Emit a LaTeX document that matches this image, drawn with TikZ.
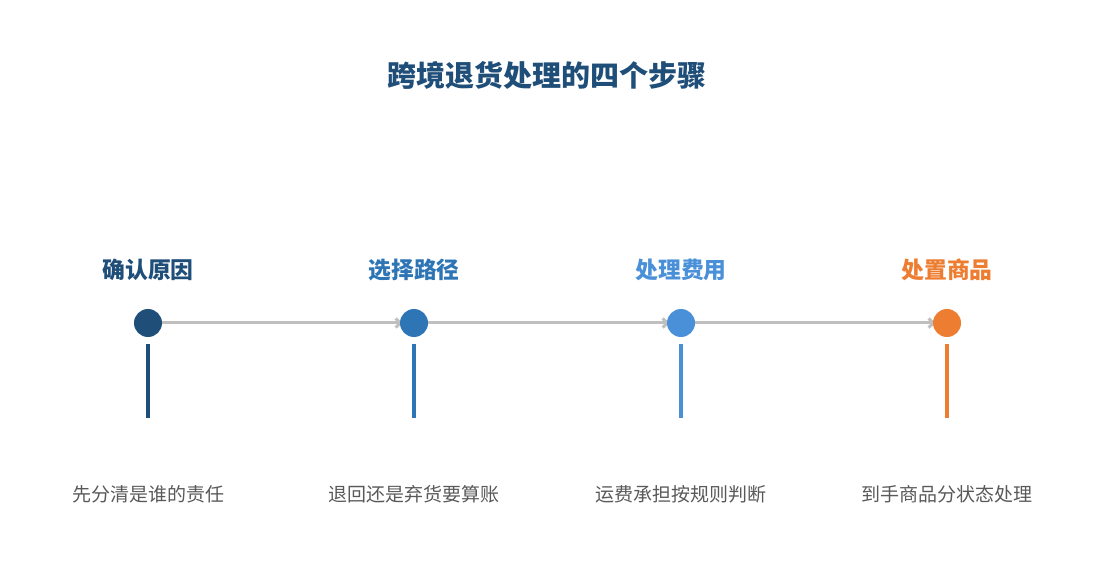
\documentclass[tikz,border=0pt]{standalone}
\usepackage{fontspec}
\setmainfont{Noto Sans CJK SC}
\usetikzlibrary{arrows.meta,backgrounds}
\definecolor{stepa}{HTML}{1F4E79}
\definecolor{stepb}{HTML}{2E75B6}
\definecolor{stepc}{HTML}{4A90D9}
\definecolor{stepd}{HTML}{ED7D31}
\definecolor{linkgray}{HTML}{BFBFBF}
\definecolor{notegray}{HTML}{595959}
\tikzset{
  dot/.style={circle,minimum size=28pt,inner sep=0pt},
  bar/.style={rectangle,minimum width=3.5pt,minimum height=74pt,inner sep=0pt},
  head/.style={font=\bfseries\fontsize{22.8}{26}\selectfont},
  note/.style={font=\fontsize{19}{23}\selectfont,text=notegray},
  link/.style={draw=linkgray,line width=3pt,-{Straight Barb[length=5pt,width=9pt]}}
}
\begin{document}
\begin{tikzpicture}[x=1pt,y=-1pt]
  \useasboundingbox (0,0) rectangle (1095,585);

  \node[font=\bfseries\fontsize{29}{32}\selectfont,text=stepa] (title) at (547,75) {跨境退货处理的四个步骤};

  \begin{scope}[every node/.style={head}]
    \node[text=stepa] (h1) at (148,270) {确认原因};
    \node[text=stepb] (h2) at (414,270) {选择路径};
    \node[text=stepc] (h3) at (681,270) {处理费用};
    \node[text=stepd] (h4) at (947,270) {处置商品};
  \end{scope}

  \begin{scope}[every node/.style={dot}]
    \node[fill=stepa] (1) at (148,323) {};
    \node[fill=stepb] (2) at (414,323) {};
    \node[fill=stepc] (3) at (681,323) {};
    \node[fill=stepd] (4) at (947,323) {};
  \end{scope}

  \begin{scope}[every node/.style={bar}]
    \node[fill=stepa] (b1) at (148,381) {};
    \node[fill=stepb] (b2) at (414,381) {};
    \node[fill=stepc] (b3) at (681,381) {};
    \node[fill=stepd] (b4) at (947,381) {};
  \end{scope}

  \begin{scope}[every node/.style={note}]
    \node (n1) at (148,494) {先分清是谁的责任};
    \node (n2) at (414,494) {退回还是弃货要算账};
    \node (n3) at (681,494) {运费承担按规则判断};
    \node (n4) at (947,494) {到手商品分状态处理};
  \end{scope}

  \begin{pgfonlayer}{background}
    \path (1) edge[link,shorten >=-3pt] (2);
    \path (2) edge[link,shorten >=-3pt] (3);
    \path (3) edge[link,shorten >=-3pt] (4);
  \end{pgfonlayer}

\end{tikzpicture}
\end{document}
